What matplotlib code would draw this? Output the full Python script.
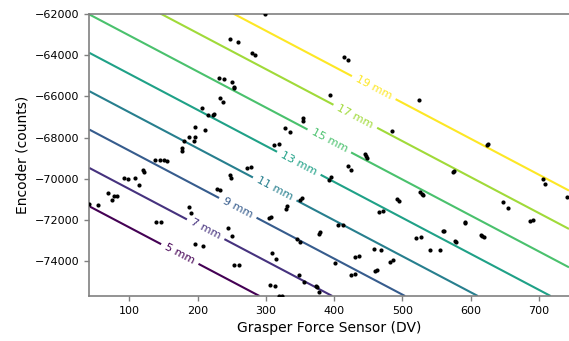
import numpy as np
import matplotlib
matplotlib.use("Agg")
import matplotlib.pyplot as plt

# Scatter data: grasper force sensor (DV) vs encoder (counts)
force = [298.2, 247.8, 259.8, 280.3, 284.4, 231.0, 239.0, 251.0, 253.7, 252.8,
         233.0, 237.6, 206.4, 214.7, 222.5, 224.4, 196.9, 211.2, 187.8, 196.9,
         195.4, 180.3, 177.9, 176.8, 138.3, 144.6, 151.1, 154.7, 120.5, 122.2,
         92.2, 97.7, 109.1, 113.8, 68.8, 78.0, 81.7, 74.7, 41.5, 54.2,
         187.7, 190.0, 139.1, 147.1, 195.9, 207.4, 227.9, 233.0, 244.7, 250.3,
         253.7, 260.8, 248.1, 248.8, 272.3, 278.5, 312.1, 318.8, 328.2, 335.9,
         353.9, 354.6, 393.3, 413.8, 420.5, 524.0, 484.8, 445.4, 447.1, 448.9,
         420.5, 425.2, 395.6, 392.3, 352.3, 349.5, 330.8, 329.0, 304.0, 306.9,
         379.1, 378.1, 345.9, 349.5, 309.1, 315.4, 347.9, 356.4, 305.5, 313.2,
         372.8, 374.4, 377.6, 318.6, 324.2, 525.9, 528.7, 530.9, 492.8, 494.4,
         465.7, 471.7, 405.9, 413.5, 559.8, 561.6, 519.3, 527.6, 458.8, 468.8,
         541.1, 554.7, 431.0, 436.9, 482.0, 485.9, 401.5, 424.8, 430.2, 460.6,
         463.2, 574.3, 575.5, 646.9, 654.5, 591.0, 592.3, 686.7, 691.3, 576.7,
         578.6, 614.4, 617.2, 619.4, 706.5, 709.4, 741.0, 623.8, 625.7]
encoder = [-61985, -63214, -63375, -63904, -63992, -65095, -65158, -65303, -65532, -65595,
           -66081, -66275, -66557, -66897, -66916, -66858, -67480, -67636, -67976, -67976,
           -68170, -68170, -68525, -68656, -69078, -69078, -69108, -69142, -69593, -69676,
           -69943, -69992, -69953, -70283, -70682, -70818, -70832, -71022, -71206, -71279,
           -71391, -71683, -72120, -72120, -73160, -73247, -70512, -70526, -72411, -72761,
           -74194, -74194, -69822, -69977, -69467, -69419, -68364, -68316, -67553, -67733,
           -67067, -67184, -65935, -64103, -64225, -66178, -67669, -68787, -68899, -68996,
           -69384, -69555, -69934, -70040, -70915, -71036, -71328, -71459, -71896, -71877,
           -72567, -72679, -72941, -73067, -73602, -73917, -74695, -75011, -75166, -75215,
           -75215, -75287, -75506, -75690, -75700, -70623, -70721, -70794, -70998, -71070,
           -71619, -71547, -72266, -72251, -72518, -72533, -72868, -72834, -73417, -73480,
           -73456, -73466, -73806, -73767, -74024, -73951, -74083, -74680, -74646, -74471,
           -74452, -69676, -69618, -71148, -71425, -72091, -72164, -72066, -72008, -73004,
           -73087, -72727, -72800, -72844, -70016, -70249, -70891, -68364, -68325]

# Fitted plane: jaw opening (mm) = a*force + b*encoder + c
coef_force = 0.018762
coef_encoder = 0.0010727
intercept = 80.75

levels = [5, 7, 9, 11, 13, 15, 17, 19]
label_pos = [(174.6, -73626), (210.8, -72528), (258.6, -71440), (312.2, -70551),
             (348.8, -69224), (393.7, -68122), (431.8, -66921), (458.6, -65546)]

x_range = (41.5, 744.0)
y_range = (-75700, -61975)

fig = plt.figure(figsize=(5.69, 3.41), dpi=100)
ax = fig.add_axes([89.3 / 569, 45 / 341, (569 - 89.3) / 569, (296 - 13.5) / 341])

gx = np.linspace(x_range[0], x_range[1], 200)
gy = np.linspace(y_range[0], y_range[1], 200)
GX, GY = np.meshgrid(gx, gy)
GZ = coef_force * GX + coef_encoder * GY + intercept

cs = ax.contour(GX, GY, GZ, levels=levels, cmap="viridis", linewidths=1.5)
ax.clabel(cs, fmt="%d mm", fontsize=8, inline=True, manual=label_pos)

ax.scatter(force, encoder, s=9, c="black", linewidths=0, zorder=3)

ax.set_xlim(*x_range)
ax.set_ylim(*y_range)
ax.set_xticks([100, 200, 300, 400, 500, 600, 700])
ax.set_yticks([-74000, -72000, -70000, -68000, -66000, -64000, -62000])
ax.set_xlabel("Grasper Force Sensor (DV)", fontsize=10)
ax.set_ylabel("Encoder (counts)", fontsize=10)

for side in ["left", "bottom", "top"]:
    ax.spines[side].set_color("#808080")
    ax.spines[side].set_linewidth(1.2)
ax.spines["right"].set_visible(False)
ax.tick_params(colors="#808080", labelcolor="black", labelsize=8, width=1.0)

fig.savefig("out.png", dpi=100)
